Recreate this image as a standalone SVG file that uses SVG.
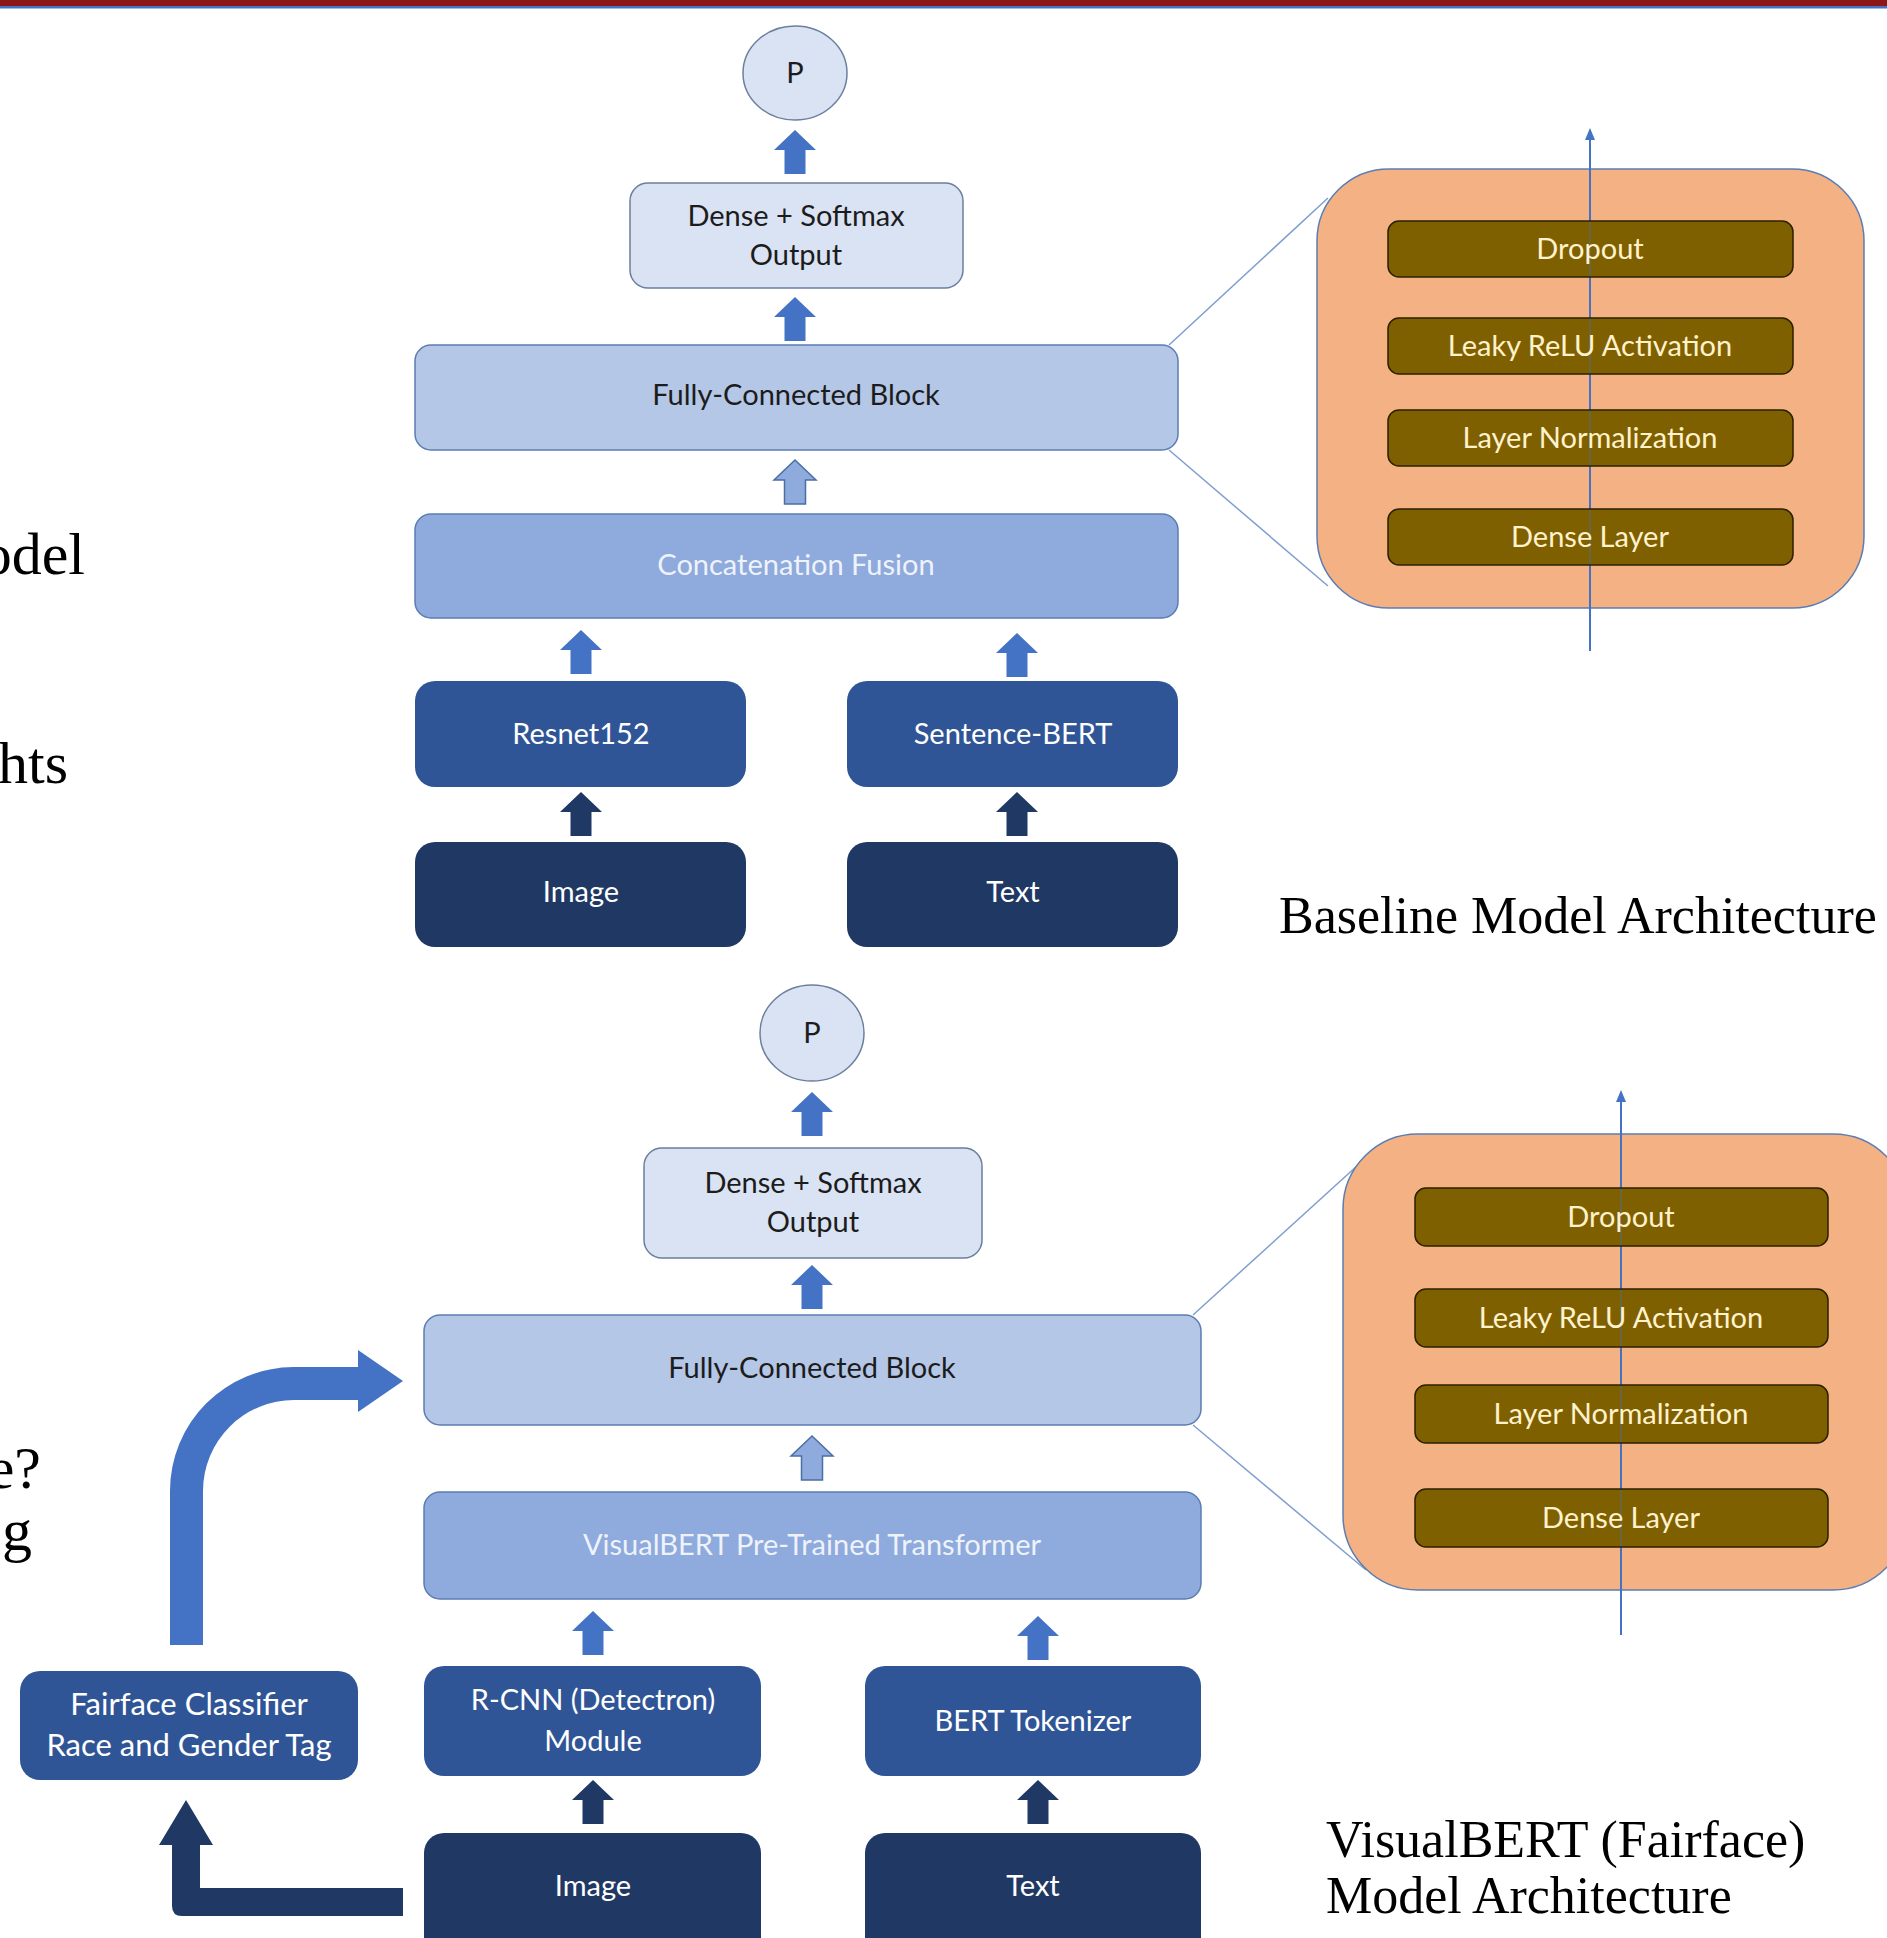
<svg xmlns="http://www.w3.org/2000/svg" width="1887" height="1938" viewBox="0 0 1887 1938">
<style>
.lbl{font-family:Lato,"Liberation Sans",sans-serif;font-size:29px;text-anchor:middle}
.ff{font-size:31px}
.dk{fill:#1c1c1c}
.wh{fill:#ffffff}
.pale{fill:#eef2fa}
.cream{fill:#fff2cc}
.cap{font-family:"Liberation Serif",serif;font-size:52px;fill:#000}
.side{font-family:"Liberation Serif",serif;font-size:60px;fill:#000;text-anchor:end}
.bP{fill:#dae3f3;stroke:#6b7f9e;stroke-width:1.5}
.bFC{fill:#b4c7e7;stroke:#5b7db1;stroke-width:1.5}
.bCat{fill:#8faadc;stroke:#5b7db1;stroke-width:1.5}
.bMid{fill:#2f5597}
.bDark{fill:#203864}
.bBrown{fill:#7f6000;stroke:#2b2000;stroke-width:1.5}
.orange{fill:#f4b183;stroke:#5b7db1;stroke-width:1.5}
.zoomln{stroke:#7f9fcf;stroke-width:1.5;fill:none}
.vln{stroke:#4472c4;stroke-width:2;fill:none}
.vlnf{stroke:#4472c4;stroke-width:2;fill:none;opacity:0.35}
.aM{fill:#4472c4}
.aL{fill:#8faadc;stroke:#4a6fa5;stroke-width:1.5}
.aD{fill:#203864}
</style>
<defs>
<path id="blk" d="M0,0 L21,20 L10.5,20 L10.5,44 L-10.5,44 L-10.5,20 L-21,20 Z"/>
<marker id="tipv" markerWidth="12" markerHeight="10" refX="10" refY="5" orient="auto" markerUnits="userSpaceOnUse" viewBox="0 0 12 10"><path d="M0,0 L12,5 L0,10 Z" fill="#4472c4"/></marker>
</defs>
<rect x="0" y="0" width="1887" height="1938" fill="#ffffff"/>
<rect x="0" y="0" width="1887" height="6" fill="#8c1515"/>
<rect x="0" y="6" width="1887" height="2.5" fill="#4472c4"/>

<g id="side-text">
<text class="side" x="85" y="574">odel</text>
<text class="side" x="68" y="783">hts</text>
<text class="side" x="41" y="1488">e?</text>
<text class="side" x="32" y="1550">g</text>
</g>

<!-- ===== Top: Baseline ===== -->
<g id="t-panel">
<rect class="orange" x="1317" y="169" width="547" height="439" rx="72"/>
</g>
<g id="t-flow">
<line class="vln" x1="1590" y1="651" x2="1590" y2="130" marker-end="url(#tipv)"/>
</g>
<g id="connectors">
<line class="zoomln" x1="1169" y1="345" x2="1328" y2="198"/>
<line class="zoomln" x1="1169" y1="450" x2="1328" y2="586"/>
<line class="zoomln" x1="1193" y1="1315" x2="1358" y2="1165"/>
<line class="zoomln" x1="1193" y1="1425" x2="1366" y2="1570"/>
<use href="#blk" class="aM" x="795" y="130"/>
<use href="#blk" class="aM" x="795" y="297"/>
<use href="#blk" class="aL" x="795" y="460"/>
<use href="#blk" class="aM" x="581" y="630"/>
<use href="#blk" class="aM" x="1017" y="633"/>
<use href="#blk" class="aD" x="581" y="792"/>
<use href="#blk" class="aD" x="1017" y="792"/>
<use href="#blk" class="aM" x="812" y="1092"/>
<use href="#blk" class="aM" x="812" y="1265"/>
<use href="#blk" class="aL" x="812" y="1436"/>
<use href="#blk" class="aM" x="593" y="1611"/>
<use href="#blk" class="aM" x="1038" y="1616"/>
<use href="#blk" class="aD" x="593" y="1780"/>
<use href="#blk" class="aD" x="1038" y="1780"/>
<path d="M170,1645 L170,1491 A124,124 0 0 1 294,1367 L358,1367 L358,1350 L403,1381 L358,1412 L358,1400 L294,1400 A91,91 0 0 0 203,1491 L203,1645 Z" fill="#4472c4"/>
<path d="M403,1888 L403,1916 L182,1916 Q172,1916 172,1906 L172,1845 L159,1845 L186,1800 L213,1845 L200,1845 L200,1888 Z" fill="#203864"/>
</g>

<g id="t-P">
<ellipse class="bP" cx="795" cy="73" rx="52" ry="47"/>
<text class="lbl dk" x="795" y="83">P</text>
</g>
<g id="t-dense">
<rect class="bP" x="630" y="183" width="333" height="105" rx="18"/>
<text class="lbl dk" x="796" y="226">Dense + Softmax</text>
<text class="lbl dk" x="796" y="265">Output</text>
</g>
<g id="t-fc">
<rect class="bFC" x="415" y="345" width="763" height="105" rx="16"/>
<text class="lbl dk" x="796" y="405">Fully-Connected Block</text>
</g>
<g id="t-concat">
<rect class="bCat" x="415" y="514" width="763" height="104" rx="16"/>
<text class="lbl pale" x="796" y="575">Concatenation Fusion</text>
</g>
<g id="t-resnet">
<rect class="bMid" x="415" y="681" width="331" height="106" rx="20"/>
<text class="lbl wh" x="581" y="744">Resnet152</text>
</g>
<g id="t-sbert">
<rect class="bMid" x="847" y="681" width="331" height="106" rx="20"/>
<text class="lbl wh" x="1013" y="744">Sentence-BERT</text>
</g>
<g id="t-image">
<rect class="bDark" x="415" y="842" width="331" height="105" rx="20"/>
<text class="lbl wh" x="581" y="902">Image</text>
</g>
<g id="t-text">
<rect class="bDark" x="847" y="842" width="331" height="105" rx="20"/>
<text class="lbl wh" x="1013" y="902">Text</text>
</g>
<g id="t-dropout">
<rect class="bBrown" x="1388" y="221" width="405" height="56" rx="11"/>
<line class="vlnf" x1="1590" y1="222" x2="1590" y2="276"/>
<text class="lbl cream" x="1590" y="259">Dropout</text>
</g>
<g id="t-leaky">
<rect class="bBrown" x="1388" y="318" width="405" height="56" rx="11"/>
<line class="vlnf" x1="1590" y1="319" x2="1590" y2="373"/>
<text class="lbl cream" x="1590" y="356">Leaky ReLU Activation</text>
</g>
<g id="t-ln">
<rect class="bBrown" x="1388" y="410" width="405" height="56" rx="11"/>
<line class="vlnf" x1="1590" y1="411" x2="1590" y2="465"/>
<text class="lbl cream" x="1590" y="448">Layer Normalization</text>
</g>
<g id="t-denselayer">
<rect class="bBrown" x="1388" y="509" width="405" height="56" rx="11"/>
<line class="vlnf" x1="1590" y1="510" x2="1590" y2="564"/>
<text class="lbl cream" x="1590" y="547">Dense Layer</text>
</g>
<text class="cap" x="1279" y="933">Baseline Model Architecture</text>

<!-- ===== Bottom: VisualBERT ===== -->
<g id="b-panel">
<rect class="orange" x="1343" y="1134" width="565" height="456" rx="75"/>
</g>
<g id="b-flow">
<line class="vln" x1="1621" y1="1635" x2="1621" y2="1092" marker-end="url(#tipv)"/>
</g>
<g id="b-P">
<ellipse class="bP" cx="812" cy="1033" rx="52" ry="48"/>
<text class="lbl dk" x="812" y="1043">P</text>
</g>
<g id="b-dense">
<rect class="bP" x="644" y="1148" width="338" height="110" rx="18"/>
<text class="lbl dk" x="813" y="1193">Dense + Softmax</text>
<text class="lbl dk" x="813" y="1232">Output</text>
</g>
<g id="b-fc">
<rect class="bFC" x="424" y="1315" width="777" height="110" rx="16"/>
<text class="lbl dk" x="812" y="1378">Fully-Connected Block</text>
</g>
<g id="b-vbert">
<rect class="bCat" x="424" y="1492" width="777" height="107" rx="16"/>
<text class="lbl pale" x="812" y="1555">VisualBERT Pre-Trained Transformer</text>
</g>
<g id="b-rcnn">
<rect class="bMid" x="424" y="1666" width="337" height="110" rx="20"/>
<text class="lbl wh" x="593" y="1710">R-CNN (Detectron)</text>
<text class="lbl wh" x="593" y="1751">Module</text>
</g>
<g id="b-tok">
<rect class="bMid" x="865" y="1666" width="336" height="110" rx="20"/>
<text class="lbl wh" x="1033" y="1731">BERT Tokenizer</text>
</g>
<g id="b-fairface">
<rect class="bMid" x="20" y="1671" width="338" height="109" rx="20"/>
<text class="lbl ff wh" x="189" y="1715">Fairface Classifier</text>
<text class="lbl ff wh" x="189" y="1756">Race and Gender Tag</text>
</g>
<g id="b-image">
<rect class="bDark" x="424" y="1833" width="337" height="130" rx="20"/>
<text class="lbl wh" x="593" y="1896">Image</text>
</g>
<g id="b-text">
<rect class="bDark" x="865" y="1833" width="336" height="130" rx="20"/>
<text class="lbl wh" x="1033" y="1896">Text</text>
</g>
<g id="b-dropout">
<rect class="bBrown" x="1415" y="1188" width="413" height="58" rx="11"/>
<line class="vlnf" x1="1621" y1="1189" x2="1621" y2="1245"/>
<text class="lbl cream" x="1621" y="1227">Dropout</text>
</g>
<g id="b-leaky">
<rect class="bBrown" x="1415" y="1289" width="413" height="58" rx="11"/>
<line class="vlnf" x1="1621" y1="1290" x2="1621" y2="1346"/>
<text class="lbl cream" x="1621" y="1328">Leaky ReLU Activation</text>
</g>
<g id="b-ln">
<rect class="bBrown" x="1415" y="1385" width="413" height="58" rx="11"/>
<line class="vlnf" x1="1621" y1="1386" x2="1621" y2="1442"/>
<text class="lbl cream" x="1621" y="1424">Layer Normalization</text>
</g>
<g id="b-denselayer">
<rect class="bBrown" x="1415" y="1489" width="413" height="58" rx="11"/>
<line class="vlnf" x1="1621" y1="1490" x2="1621" y2="1546"/>
<text class="lbl cream" x="1621" y="1528">Dense Layer</text>
</g>
<text class="cap" x="1326" y="1857">VisualBERT (Fairface)</text>
<text class="cap" x="1326" y="1913">Model Architecture</text>
</svg>
